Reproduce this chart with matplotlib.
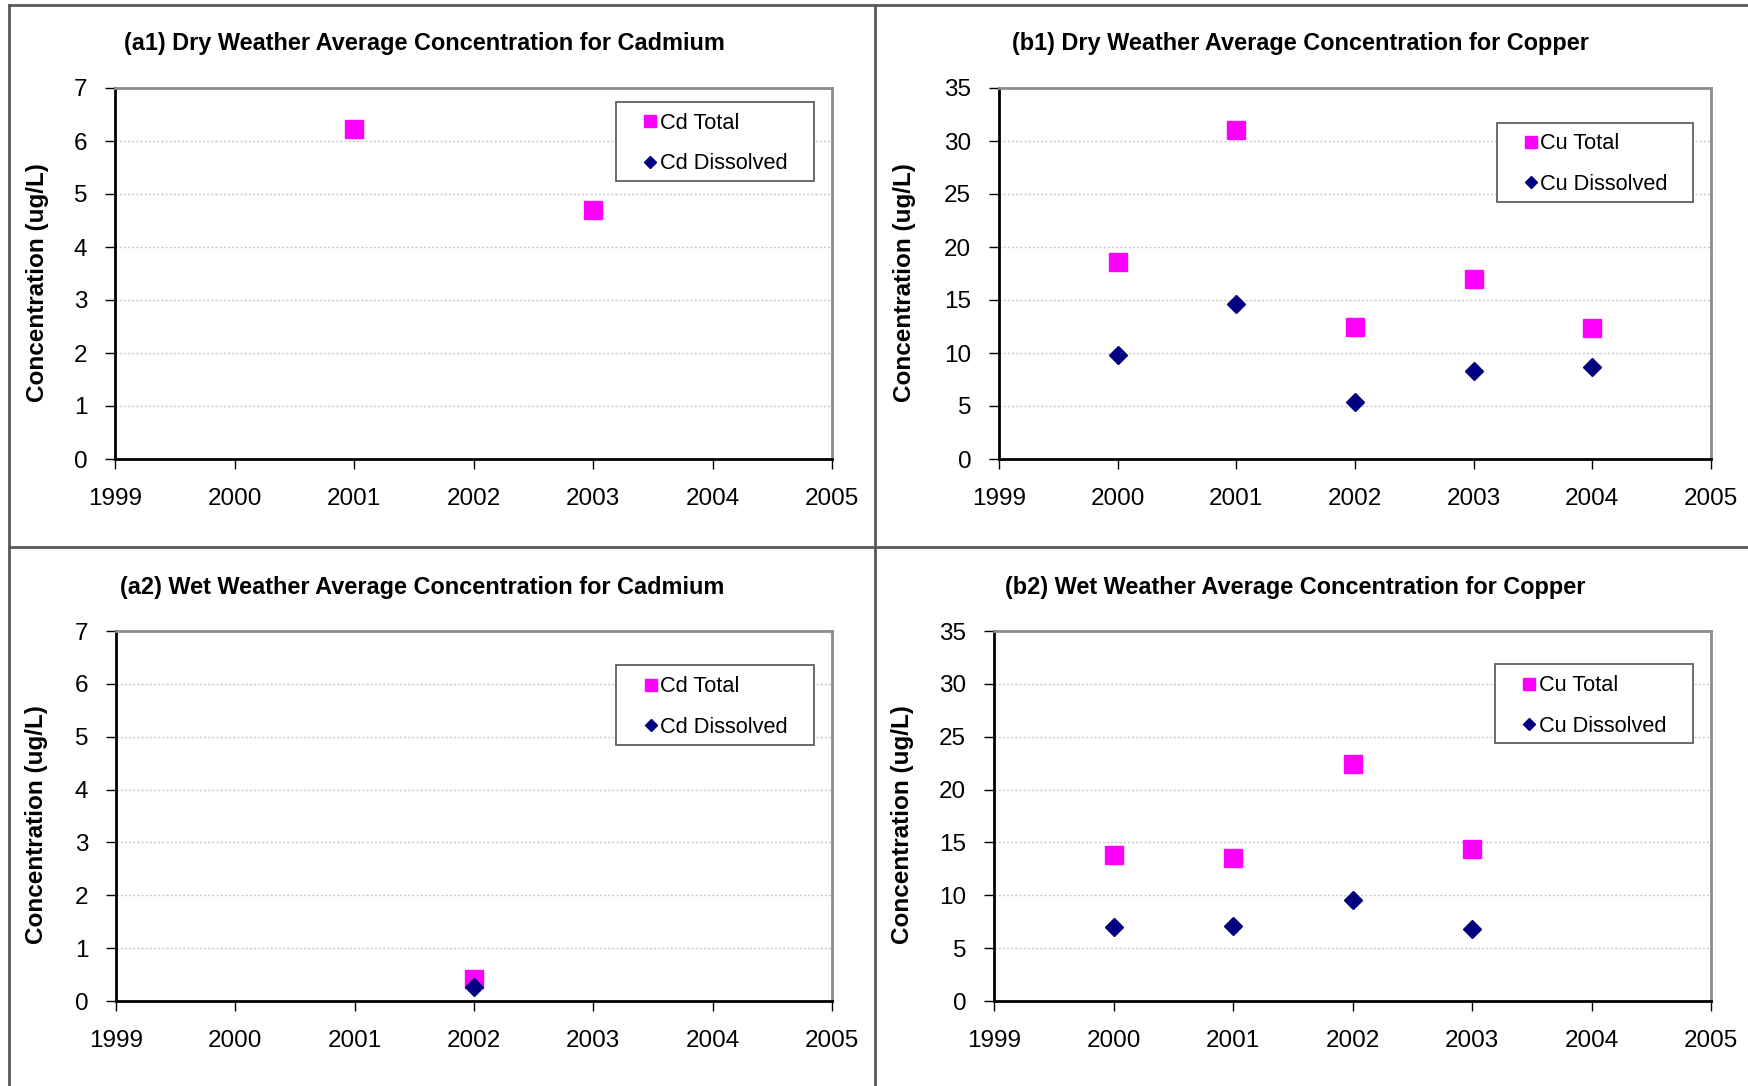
import matplotlib
matplotlib.use("Agg")
import matplotlib.pyplot as plt
from matplotlib.lines import Line2D
from matplotlib.patches import Rectangle

plt.rcParams['font.family'] = ['Liberation Sans', 'DejaVu Sans']

# values
years = [1999, 2000, 2001, 2002, 2003, 2004, 2005]

cd_dry_years = [2001, 2003]
cd_dry_total = [6.23, 4.69]
cd_dry_diss_years = []
cd_dry_dissolved = []

cu_dry_years = [2000, 2001, 2002, 2003, 2004]
cu_dry_total = [18.6, 31.0, 12.5, 16.95, 12.4]
cu_dry_dissolved = [9.8, 14.6, 5.4, 8.3, 8.65]

cd_wet_years = [2002]
cd_wet_total = [0.42]
cd_wet_dissolved = [0.26]

cu_wet_years = [2000, 2001, 2002, 2003]
cu_wet_total = [13.8, 13.5, 22.45, 14.4]
cu_wet_dissolved = [7.0, 7.1, 9.6, 6.8]

W, H = 1748, 1086
fig = plt.figure(figsize=(W / 100, H / 100), dpi=100)


def px_axes(l, t, r, b):
    # pixel box -> figure fraction
    return fig.add_axes([l / W, 1 - b / H, (r - l) / W, (b - t) / H])


def panel(ax, xt, yt, xd, yd, ymax, ystep, sym, leg_top):
    ax.plot(xt, yt, ls='none', marker='s', ms=12.6, color='#ff00ff',
            mec='#ff00ff', label=sym + ' Total', zorder=3, clip_on=False)
    ax.plot(xd, yd, ls='none', marker='D', ms=9.0, color='#000080',
            mec='#000080', label=sym + ' Dissolved', zorder=3, clip_on=False)
    ax.set_xlim(1999, 2005)
    ax.set_ylim(0, ymax)
    ax.set_xticks(years)
    ax.set_xticklabels([str(y) for y in years])
    ax.set_yticks(range(0, ymax + 1, ystep))
    ax.tick_params(axis='both', direction='out', length=7, width=1,
                   labelsize=17.5, pad=13, color='black')
    ax.tick_params(axis='x', pad=14)
    ax.yaxis.grid(True, linestyle=(0, (1.5, 1.5)), color='#c8c8c8', linewidth=1)
    ax.set_axisbelow(True)
    for s in ['left', 'bottom']:
        ax.spines[s].set_color('black')
        ax.spines[s].set_linewidth(2)
    for s in ['top', 'right']:
        ax.spines[s].set_color('#8c8c8c')
        ax.spines[s].set_linewidth(2)

    # legend box
    x0, w, h = 0.699, 0.276, 0.214
    ax.add_patch(Rectangle((x0, leg_top - h), w, h, transform=ax.transAxes,
                           facecolor='white', edgecolor='#606060', lw=1.3,
                           zorder=4, clip_on=False))
    leg = ax.legend(loc='upper left', bbox_to_anchor=(x0, leg_top),
                    borderaxespad=0, frameon=False, fontsize=15.7,
                    borderpad=0.5, labelspacing=0.9, handlelength=2.12,
                    handletextpad=-0.63, markerscale=0.7)
    leg.set_zorder(5)


a1 = px_axes(115, 88, 832, 459)
panel(a1, cd_dry_years, cd_dry_total, cd_dry_diss_years, cd_dry_dissolved,
      7, 1, 'Cd', 0.963)
b1 = px_axes(999, 88, 1711, 459)
panel(b1, cu_dry_years, cu_dry_total, cu_dry_years, cu_dry_dissolved,
      35, 5, 'Cu', 0.907)
a2 = px_axes(116, 631, 832, 1001)
panel(a2, cd_wet_years, cd_wet_total, cd_wet_years, cd_wet_dissolved,
      7, 1, 'Cd', 0.907)
b2 = px_axes(994, 631, 1711, 1001)
panel(b2, cu_wet_years, cu_wet_total, cu_wet_years, cu_wet_dissolved,
      35, 5, 'Cu', 0.910)

titles = [
    ('(a1) Dry Weather Average Concentration for Cadmium', 424, 50),
    ('(b1) Dry Weather Average Concentration for Copper', 1300, 50),
    ('(a2) Wet Weather Average Concentration for Cadmium', 422, 594),
    ('(b2) Wet Weather Average Concentration for Copper', 1295, 594),
]
for txt, cx, by in titles:
    fig.text(cx / W, 1 - by / H, txt, ha='center', va='baseline',
             fontsize=16.9, fontweight='bold')

for cx, cy in [(38, 283), (905, 283), (37, 825), (903, 825)]:
    fig.text(cx / W, 1 - cy / H, 'Concentration (ug/L)', rotation=90,
             ha='center', va='center', fontsize=17.5, fontweight='bold')

# chart frames around the panels
frame = dict(color='#5a5a5a', lw=2, transform=fig.transFigure)
fig.add_artist(Line2D([9 / W, 1], [1 - 4.5 / H] * 2, **frame))
fig.add_artist(Line2D([9 / W, 1], [1 - 547 / H] * 2, **frame))
fig.add_artist(Line2D([9 / W] * 2, [0, 1 - 4.5 / H], **frame))
fig.add_artist(Line2D([875 / W] * 2, [0, 1 - 4.5 / H], **frame))

fig.savefig('out.png', dpi=100)
